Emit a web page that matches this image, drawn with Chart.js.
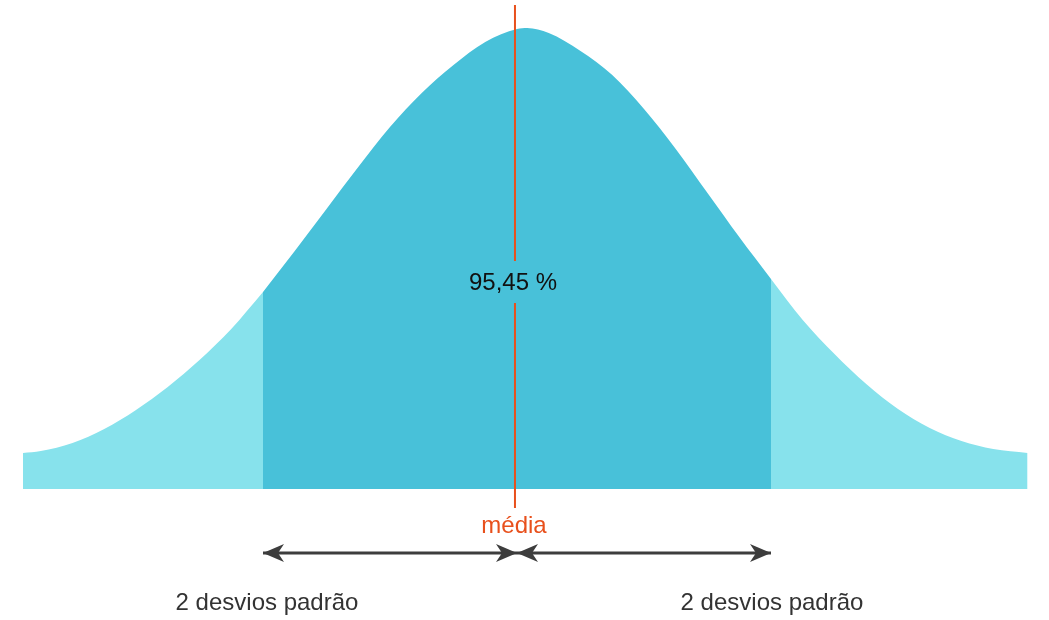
<!DOCTYPE html>
<html>
<head>
<meta charset="utf-8">
<script src="https://cdn.jsdelivr.net/npm/chart.js@4.4.1/dist/chart.umd.min.js"></script>
<style>
  html, body { margin: 0; padding: 0; background: #fff; }
  #wrap { position: relative; width: 1049px; height: 620px; }
</style>
</head>
<body>
<div id="wrap"><canvas id="bell"></canvas></div>
<script>
/* Curva normal — 95,45 % entre -2 e +2 desvios padrão */

// x in standard deviations from the mean, y = curve height
const leftTailX  = [-3.89, -3.75, -3.5, -3.25, -3.0, -2.75, -2.5, -2.25, -2.0];
const leftTailY  = [36, 38, 46, 60, 79, 102, 129, 160, 197];
const middleX    = [-2.0, -1.75, -1.5, -1.25, -1.0, -0.75, -0.5, -0.25, 0, 0.08, 0.25, 0.5, 0.75, 1.0, 1.25, 1.5, 1.75, 2.0];
const middleY    = [197, 238, 280, 322, 362, 396, 424, 447, 460, 461, 456, 438, 414, 380, 340, 296, 252, 210];
const rightTailX = [2.0, 2.25, 2.5, 2.75, 3.0, 3.25, 3.5, 3.75, 4.02];
const rightTailY = [210, 169, 135, 105, 80, 61, 48, 40, 36];

const MEAN = 0;
const SPAN_LEFT = [-2, 0];
const SPAN_RIGHT = [0, 2];
const CENTER_LABEL = '95,45 %';
const MEAN_LABEL = 'média';
const SPAN_LABEL = '2 desvios padrão';

const LIGHT = '#87e2ec';
const DARK = '#48c1d9';
const ORANGE = '#e8501c';
const ARROW = '#3d3d3d';

const ARROW_LEVEL = -64;

const pts = (xs, ys) => xs.map((x, i) => ({ x, y: ys[i] }));

const arrowHeads = {
  id: 'arrowHeads',
  afterDatasetsDraw(chart) {
    const ctx = chart.ctx;
    chart.data.datasets.forEach((ds, i) => {
      if (!ds.arrow) return;
      const d = chart.getDatasetMeta(i).data;
      const a = d[0], b = d[d.length - 1];
      const head = (x, y, dir) => {
        ctx.save();
        ctx.translate(x, y);
        ctx.scale(dir, 1);
        ctx.beginPath();
        ctx.moveTo(0, 0);
        ctx.lineTo(-21, -9);
        ctx.lineTo(-15, 0);
        ctx.lineTo(-21, 9);
        ctx.closePath();
        ctx.fillStyle = ARROW;
        ctx.fill();
        ctx.restore();
      };
      head(b.x, b.y, 1);
      head(a.x, a.y, -1);
    });
  }
};

const labels = {
  id: 'labels',
  afterDraw(chart) {
    const { ctx, scales: { x, y } } = chart;
    ctx.save();
    ctx.textAlign = 'center';
    ctx.textBaseline = 'alphabetic';
    ctx.font = '24px "Liberation Sans", Arial, sans-serif';
    ctx.fillStyle = '#111';
    ctx.fillText(CENTER_LABEL, x.getPixelForValue(MEAN) - 4, y.getPixelForValue(199));
    ctx.fillStyle = ORANGE;
    ctx.fillText(MEAN_LABEL, x.getPixelForValue(MEAN) - 3, y.getPixelForValue(-44));
    ctx.fillStyle = '#333';
    ctx.fillText(SPAN_LABEL, x.getPixelForValue(SPAN_LEFT[0]) + 4, y.getPixelForValue(-121));
    ctx.fillText(SPAN_LABEL, x.getPixelForValue(SPAN_RIGHT[1]) + 1, y.getPixelForValue(-121));
    ctx.restore();
  }
};

const area = (data, color) => ({
  data,
  backgroundColor: color,
  borderColor: color,
  borderWidth: 0,
  fill: 'origin',
  pointRadius: 0,
  cubicInterpolationMode: 'monotone',
  order: 1,
});

const arrow = (span) => ({
  data: [{ x: span[0], y: ARROW_LEVEL }, { x: span[1], y: ARROW_LEVEL }],
  borderColor: ARROW,
  borderWidth: 3,
  pointRadius: 0,
  fill: false,
  arrow: true,
  order: 0,
});

new Chart(document.getElementById('bell'), {
  type: 'line',
  data: {
    datasets: [
      area(pts(leftTailX, leftTailY), LIGHT),
      area(pts(rightTailX, rightTailY), LIGHT),
      area(pts(middleX, middleY), DARK),
      {
        data: [{ x: MEAN - 0.016, y: 484 }, { x: MEAN - 0.016, y: 228 }, { x: MEAN - 0.016, y: null },
               { x: MEAN - 0.016, y: 186 }, { x: MEAN - 0.016, y: -19 }],
        borderColor: ORANGE,
        borderWidth: 2,
        pointRadius: 0,
        tension: 0,
        fill: false,
        spanGaps: false,
        order: 0,
      },
      arrow(SPAN_LEFT),
      arrow(SPAN_RIGHT),
    ]
  },
  options: {
    responsive: true,
    maintainAspectRatio: false,
    animation: false,
    layout: { padding: 0 },
    plugins: { legend: { display: false }, tooltip: { enabled: false } },
    scales: {
      x: { type: 'linear', min: -517 / 127, max: 532 / 127, display: false },
      y: { min: -131, max: 489, display: false }
    }
  },
  plugins: [arrowHeads, labels]
});
</script>
</body>
</html>
